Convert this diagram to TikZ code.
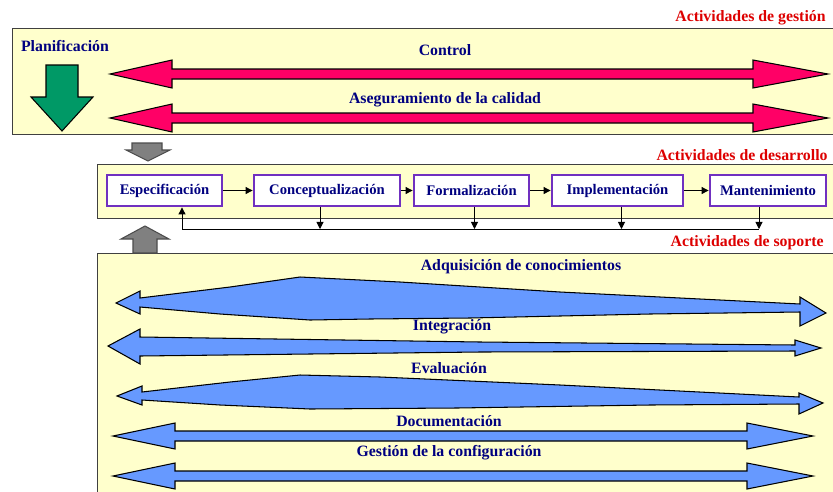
\documentclass[tikz,border=0pt]{standalone}
\usepackage{fontspec}
\setmainfont{Liberation Serif}
\usetikzlibrary{arrows.meta}

\definecolor{panel}{HTML}{FFFFCC}
\definecolor{navy}{HTML}{000080}
\definecolor{secred}{HTML}{DD0000}
\definecolor{gestred}{HTML}{FF0066}
\definecolor{planegreen}{HTML}{009966}
\definecolor{supblue}{HTML}{6699FF}
\definecolor{procviolet}{HTML}{7030C0}

\begin{document}
\begin{tikzpicture} [
                x=0.03cm, y=-0.03cm,
                panelbox/.style = {draw=black!75,line width=0.8pt,fill=panel},
                fatarrow/.style = {draw=black,line width=0.9pt,line join=miter},
                lbl/.style = {text=navy,font=\bfseries\fontsize{13.5}{15}\selectfont,inner sep=1pt},
                sec/.style = {text=secred,font=\bfseries\fontsize{13.5}{15}\selectfont,anchor=east,inner sep=1pt},
                proc/.style = {draw=procviolet,line width=2.4pt,fill=white,text=navy,
                    font=\bfseries\fontsize{12.5}{14}\selectfont,minimum height=0.93cm,inner sep=1pt},
                flow/.style = {draw,line width=0.8pt,-{Triangle[length=6pt,width=6pt]}},
            ]
            \useasboundingbox (0,0) rectangle (833,491);

            % gestion
            \fill[panelbox] (12,28) rectangle (840,134);
            \node[sec] (gest) at (827,18) {Actividades de gestión};
            \node[lbl] (plan) at (65,46) {Planificación};
            \draw[fatarrow,fill=planegreen] (46,65) -- (78,65) -- (78,97) -- (93,97)
                -- (62,131) -- (31,97) -- (46,97) -- cycle;
            \foreach \y/\ly/\name/\txt in {
                    74/50/ctl/Control, 118/100/cal/Aseguramiento de la calidad}
                {
                \draw[fatarrow,fill=gestred] (110,\y) -- (172,{\y-14}) -- (172,{\y-5})
                    -- (753,{\y-5}) -- (753,{\y-14}) -- (828,\y) -- (753,{\y+14})
                    -- (753,{\y+5}) -- (172,{\y+5}) -- (172,{\y+14}) -- cycle;
                \node[lbl] (\name) at (445,\ly) {\txt};
                }

            % desarrollo
            \draw[fatarrow,draw=black!70,fill=black!50] (132,143) -- (162,143) -- (162,150)
                -- (170,150) -- (148,161) -- (126,150) -- (132,150) -- cycle;
            \fill[panelbox] (97,164) rectangle (840,218);
            \node[sec] (des) at (829,155) {Actividades de desarrollo};
            \foreach \pos/\name/\txt/\w in {
                    {(164.5,190.5)/esp/Especificación/3.45cm},
                    {(327,190.5)/conc/Conceptualización/4.38cm},
                    {(471.5,190.5)/form/Formalización/3.45cm},
                    {(617.5,190.5)/impl/Implementación/3.93cm},
                    {(768,190.5)/mant/Mantenimiento/3.48cm}}
                \node[proc,minimum width=\w] (\name) at \pos {\txt};
            \foreach \source/\dest in {
                    esp/conc,conc/form,form/impl,impl/mant}
                \path[flow] (\source) -- (\dest);
            \coordinate (fb) at (182,229);
            \coordinate (fbend) at (759,229);
            \draw[line width=0.8pt] (fb) -- (fbend);
            \path[flow] (fb) -- (fb |- esp.south);
            \foreach \source/\dx in {
                    conc/-7,form/3,impl/4,mant/-9}
                \path[flow] ([xshift=\dx*0.03cm]\source.south) -- ([xshift=\dx*0.03cm]\source.south |- fb);

            % soporte
            \fill[panelbox] (97,253) rectangle (840,500);
            \draw[fatarrow,draw=black!70,fill=black!50] (145,226) -- (169,239) -- (157,239)
                -- (157,253) -- (133,253) -- (133,239) -- (121,239) -- cycle;
            \node[sec] (sop) at (825,243) {Actividades de soporte};

            \draw[fatarrow,fill=supblue] (116,303) -- (140,291) -- (140,298) -- (230,287)
                -- (300,277) -- (400,282) -- (560,292) -- (800,304) -- (800,297) -- (826,313)
                -- (800,326) -- (800,312) -- (650,314) -- (470,318) -- (370,319) -- (310,320)
                -- (220,314) -- (140,307) -- (140,314) -- cycle;
            \node[lbl] (adq) at (521,267) {Adquisición de conocimientos};

            \draw[fatarrow,fill=supblue] (108,346) -- (140,329) -- (140,337) -- (480,342)
                -- (795,345) -- (795,340) -- (821,348) -- (795,356) -- (795,351) -- (480,352)
                -- (140,356) -- (140,364) -- cycle;
            \node[lbl] (int) at (452,327) {Integración};

            \draw[fatarrow,fill=supblue] (117,396) -- (142,386) -- (142,392) -- (230,382)
                -- (300,375) -- (380,377) -- (560,385) -- (799,397) -- (799,393) -- (823,403)
                -- (799,414) -- (799,404) -- (650,405) -- (457,408) -- (310,409) -- (220,405)
                -- (142,400) -- (142,405) -- cycle;
            \node[lbl] (eva) at (449,368) {Evaluación};

            \foreach \y/\ly/\name/\txt in {
                    436/421/doc/Documentación, 476/453/conf/Gestión de la configuración}
                {
                \draw[fatarrow,fill=supblue] (113,\y) -- (175,{\y-13}) -- (175,{\y-5})
                    -- (747,{\y-5}) -- (747,{\y-13}) -- (813,\y) -- (747,{\y+13})
                    -- (747,{\y+5}) -- (175,{\y+5}) -- (175,{\y+13}) -- cycle;
                \node[lbl] (\name) at (449,\ly) {\txt};
                }
        \end{tikzpicture}
\end{document}
